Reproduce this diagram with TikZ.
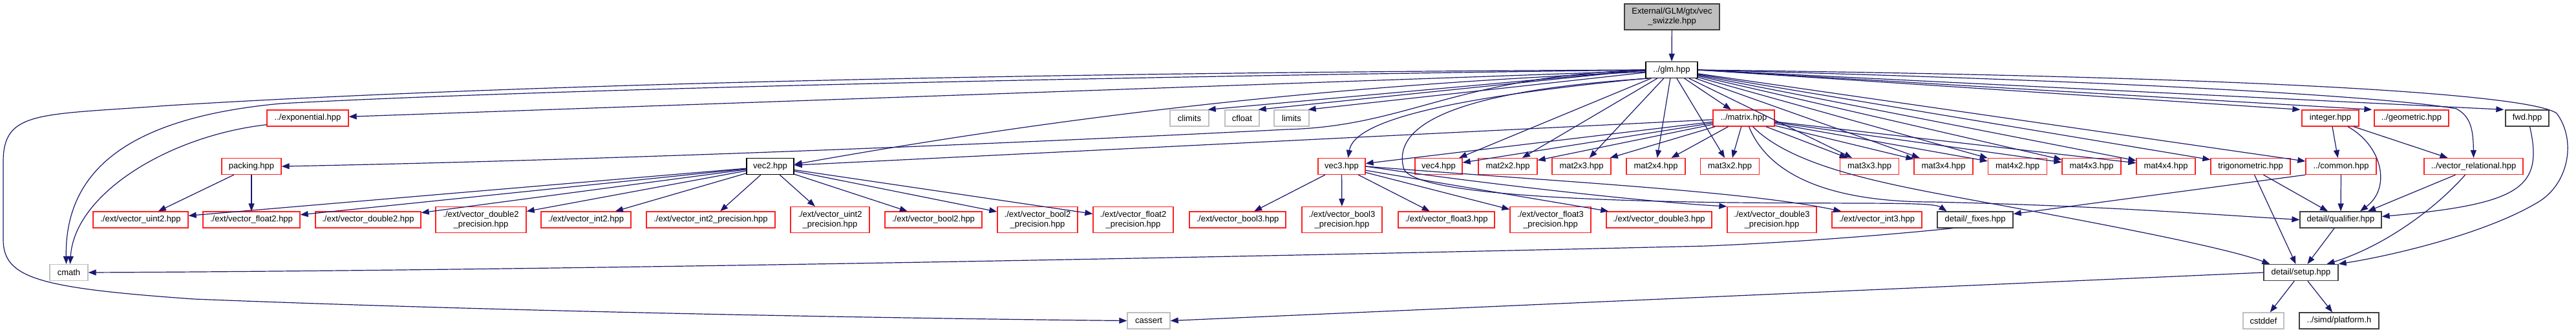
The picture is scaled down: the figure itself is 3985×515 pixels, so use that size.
\documentclass[tikz,border=0pt]{standalone}
\usepackage{fontspec}
\setmainfont{Liberation Sans}
\usetikzlibrary{arrows.meta}
\definecolor{edgec}{HTML}{191970}
\definecolor{redb}{HTML}{FF2020}
\definecolor{grayb}{HTML}{BFBFBF}
\definecolor{darkb}{HTML}{404040}
\tikzset{
  box/.style={draw, line width=1.3pt, inner sep=0pt, align=center, font=\fontsize{13}{15}\selectfont, minimum height=25pt},
  rbox/.style={box, draw=redb},
  kbox/.style={box, draw=black},
  dbox/.style={box, draw=darkb},
  gbox/.style={box, draw=grayb},
  tall/.style={minimum height=40pt},
  e/.style={draw=edgec, line width=1.2pt, -{Triangle[length=12pt,width=9pt]}},
}
\begin{document}
\begin{tikzpicture}[x=1pt,y=-1pt]
\useasboundingbox[fill=white] (0,0) rectangle (3985,515);
% row 0,1
\node[box, draw=darkb, fill=grayb, minimum width=147pt, tall] (main) at (2586.5,26) {External/GLM/gtx/vec\\\_swizzle.hpp};
\node[kbox, minimum width=80pt] (glm) at (2586,108) {../glm.hpp};
% row 2
\node[rbox, minimum width=126pt] (exponential) at (476,182.5) {../exponential.hpp};
\node[gbox, minimum width=60pt] (climits) at (1840,182.5) {climits};
\node[gbox, minimum width=53pt] (cfloat) at (1921.5,182.5) {cfloat};
\node[gbox, minimum width=54pt] (limits) at (1998,182.5) {limits};
\node[rbox, minimum width=95pt] (matrix) at (2697.5,182.5) {../matrix.hpp};
\node[rbox, minimum width=88pt] (integer) at (3605,182.5) {integer.hpp};
\node[rbox, minimum width=115pt] (geometric) at (3730.5,182.5) {../geometric.hpp};
\node[dbox, minimum width=67pt] (fwd) at (3909.5,182.5) {fwd.hpp};
% row 3
\node[rbox, minimum width=92pt] (packing) at (389,257) {packing.hpp};
\node[kbox, minimum width=73pt] (vec2) at (1191.5,257) {vec2.hpp};
\node[rbox, minimum width=73pt] (vec3) at (2075.5,257) {vec3.hpp};
\node[rbox, minimum width=73pt] (vec4) at (2225.5,257) {vec4.hpp};
\node[rbox, minimum width=91pt] (m22) at (2332.5,257) {mat2x2.hpp};
\node[rbox, minimum width=91pt] (m23) at (2446.5,257) {mat2x3.hpp};
\node[rbox, minimum width=91pt] (m24) at (2561.5,257) {mat2x4.hpp};
\node[rbox, minimum width=91pt] (m32) at (2676,257) {mat3x2.hpp};
\node[rbox, minimum width=91pt] (m33) at (2892,257) {mat3x3.hpp};
\node[rbox, minimum width=91pt] (m34) at (3006.5,257) {mat3x4.hpp};
\node[rbox, minimum width=91pt] (m42) at (3121,257) {mat4x2.hpp};
\node[rbox, minimum width=91pt] (m43) at (3235.5,257) {mat4x3.hpp};
\node[rbox, minimum width=91pt] (m44) at (3350.5,257) {mat4x4.hpp};
\node[rbox, minimum width=123pt] (trig) at (3481.5,257) {trigonometric.hpp};
\node[rbox, minimum width=109pt] (common) at (3621.5,257) {../common.hpp};
\node[rbox, minimum width=153pt] (vecrel) at (3826.5,257) {../vector\_relational.hpp};
% row 4
\node[rbox, minimum width=147pt] (uint2) at (217.5,339.5) {./ext/vector\_uint2.hpp};
\node[rbox, minimum width=150pt] (float2) at (389,339.5) {./ext/vector\_float2.hpp};
\node[rbox, minimum width=163pt] (double2) at (569.5,339.5) {./ext/vector\_double2.hpp};
\node[rbox, minimum width=140pt, tall] (double2p) at (744,339.5) {./ext/vector\_double2\\\_precision.hpp};
\node[rbox, minimum width=139pt] (int2) at (906.5,339.5) {./ext/vector\_int2.hpp};
\node[rbox, minimum width=199pt] (int2p) at (1099.5,339.5) {./ext/vector\_int2\_precision.hpp};
\node[rbox, minimum width=122pt, tall] (uint2p) at (1284,339.5) {./ext/vector\_uint2\\\_precision.hpp};
\node[rbox, minimum width=150pt] (bool2) at (1444,339.5) {./ext/vector\_bool2.hpp};
\node[rbox, minimum width=124pt, tall] (bool2p) at (1605,339.5) {./ext/vector\_bool2\\\_precision.hpp};
\node[rbox, minimum width=124pt, tall] (float2p) at (1753,339.5) {./ext/vector\_float2\\\_precision.hpp};
\node[rbox, minimum width=149pt] (bool3) at (1914.5,339.5) {./ext/vector\_bool3.hpp};
\node[rbox, minimum width=124pt, tall] (bool3p) at (2076,339.5) {./ext/vector\_bool3\\\_precision.hpp};
\node[rbox, minimum width=149pt] (float3) at (2237.5,339.5) {./ext/vector\_float3.hpp};
\node[rbox, minimum width=125pt, tall] (float3p) at (2398.5,339.5) {./ext/vector\_float3\\\_precision.hpp};
\node[rbox, minimum width=163pt] (double3) at (2566.5,339.5) {./ext/vector\_double3.hpp};
\node[rbox, minimum width=138pt, tall] (double3p) at (2741,339.5) {./ext/vector\_double3\\\_precision.hpp};
\node[rbox, minimum width=139pt] (int3) at (2903.5,339.5) {./ext/vector\_int3.hpp};
\node[dbox, minimum width=117pt] (fixes) at (3055.5,339.5) {detail/\_fixes.hpp};
\node[dbox, minimum width=126pt] (qualifier) at (3621,339.5) {detail/qualifier.hpp};
% row 5,6
\node[gbox, minimum width=59pt] (cmath) at (106.5,421) {cmath};
\node[dbox, minimum width=115pt] (setup) at (3559.5,421) {detail/setup.hpp};
\node[gbox, minimum width=66pt] (cassert) at (1777,495.5) {cassert};
\node[gbox, minimum width=63pt] (cstddef) at (3501.5,495.5) {cstddef};
\node[dbox, minimum width=123pt] (platform) at (3618.5,495.5) {../simd/platform.h};

% edges
\draw[e] (main) -- (glm);
\draw[e] (glm.west) -- ([xshift=-2pt]climits.north east);
\draw[e] (glm.west) -- ([xshift=-2pt]cfloat.north east);
\draw[e] ([yshift=-4pt]glm.west) -- ([xshift=-2pt]limits.north east);
\draw[e] (glm) -- (exponential);
\draw[e] (glm) -- (matrix);
\draw[e] (glm.east) -- ([xshift=-2pt]integer.north west);
\draw[e] (glm.east) -- ([xshift=-3pt]geometric.north west);
\draw[e] (glm.east) -- ([xshift=-2pt]fwd.north west);
\draw[e] ([yshift=-3pt]glm.west) .. controls (2100,130) and (1700,170) .. ([yshift=3pt]vec2.east);
\draw[e] (glm) -- (vec4);
\draw[e] (glm) -- (m22);
\draw[e] (glm) -- (m23);
\draw[e] (glm) -- (m24);
\draw[e] (glm) -- (m32);
\draw[e] (glm) -- (m33);
\draw[e] (glm) -- (m34);
\draw[e] (glm) -- (m42);
\draw[e] (glm) -- (m43);
\draw[e] (glm) -- (m44);
\draw[e] (glm) -- (trig);
\draw[e] (glm) -- (common);
\draw[e] (glm.east) .. controls (3300,125) and (3700,150) .. (3800,168) .. controls (3822,180) and (3826,200) .. (vecrel.north);
\draw[e] (glm.east) .. controls (3600,120) and (3920,150) .. (3955,175) .. controls (3985,215) and (3975,280) .. (3930,310) .. controls (3850,360) and (3700,395) .. (setup.north east);
\draw[e] (glm.south west) .. controls (2250,150) and (2095,185) .. ([xshift=10pt]vec3.north);
\draw[e] ([xshift=5pt]glm.south west) .. controls (2260,140) and (2150,190) .. (2172,262) .. controls (2195,300) and (2450,310) .. (2680,313) .. controls (2900,315) and (2990,312) .. ([xshift=-44pt]fixes.north);
\draw[e] (glm.west) .. controls (2250,118) and (2180,195) .. (1990,200) .. controls (1500,225) and (900,248) .. (packing.east);
\draw[e] (glm.west) .. controls (1600,120) and (800,140) .. (434,160) .. controls (220,180) and (100,250) .. ([xshift=-4pt]cmath.north);
\draw[e] (glm.west) .. controls (1600,112) and (800,130) .. (260,163) .. controls (60,178) and (5,170) .. (5,250) -- (5,370) .. controls (5,430) and (60,445) .. (300,462) .. controls (800,482) and (1400,492) .. (cassert.west);
% exponential, packing
\draw[e] ([yshift=3pt]exponential.south west) .. controls (260,210) and (115,300) .. ([xshift=2pt]cmath.north);
\draw[e] (packing) -- (uint2);
\draw[e] (packing) -- (float2);
% matrix
\draw[e] (matrix) -- (vec2);
\draw[e] (matrix) -- (vec3);
\draw[e] (matrix) -- (vec4);
\draw[e] (matrix) -- (m22);
\draw[e] (matrix) -- (m23);
\draw[e] (matrix) -- (m24);
\draw[e] (matrix) -- (m32);
\draw[e] (matrix) -- (m33);
\draw[e] (matrix) -- (m34);
\draw[e] (matrix) -- (m42);
\draw[e] (matrix) -- (m43);
\draw[e] (matrix) -- (m44);
\draw[e] ([xshift=8pt]matrix.south) .. controls (2740,280) and (2850,312) .. (2990,312) .. controls (3250,318) and (3400,330) .. (qualifier.west);
\draw[e] ([xshift=14pt]matrix.south) .. controls (2780,265) and (2950,290) .. (3100,318) .. controls (3300,355) and (3450,385) .. ([xshift=10pt]setup.north west);
% vec2
\draw[e] (vec2) -- (uint2);
\draw[e] (vec2) -- (float2);
\draw[e] (vec2) -- (double2);
\draw[e] (vec2) -- (double2p);
\draw[e] (vec2) -- (int2);
\draw[e] (vec2) -- (int2p);
\draw[e] (vec2) -- (uint2p);
\draw[e] (vec2) -- (bool2);
\draw[e] (vec2) -- (bool2p);
\draw[e] (vec2) -- (float2p);
% vec3
\draw[e] (vec3) -- (bool3);
\draw[e] (vec3) -- (bool3p);
\draw[e] (vec3) -- (float3);
\draw[e] (vec3) -- (float3p);
\draw[e] (vec3) -- (double3);
\draw[e] (vec3.east) .. controls (2300,285) and (2560,313) .. (double3p.north west);
\draw[e] (vec3.east) .. controls (2400,280) and (2700,295) .. ([xshift=15pt]int3.north west);
% right cluster
\draw[e] ([xshift=3pt]integer.south) -- ([xshift=-5pt]common.north);
\draw[e] ([xshift=36pt]integer.south) -- ([xshift=-40pt]vecrel.north);
\draw[e] ([xshift=27pt]integer.south) .. controls (3685,225) and (3700,290) .. ([xshift=30pt]qualifier.north);
\draw[e] ([xshift=4pt]fwd.south) .. controls (3935,290) and (3900,315) .. ([yshift=5pt]qualifier.east);
\draw[e] ([xshift=20pt]trig.south) -- ([xshift=-20pt]qualifier.north);
\draw[e] ([xshift=6pt]trig.south) -- ([xshift=-8pt]setup.north);
\draw[e] (common.south) -- (qualifier.north);
\draw[e] (common.south west) -- ([yshift=9pt]fixes.east);
\draw[e] ([xshift=-28pt]vecrel.south) -- ([xshift=42pt]qualifier.north);
\draw[e] ([xshift=-13pt]vecrel.south) .. controls (3770,320) and (3690,380) .. ([xshift=40pt]setup.north);
\draw[e] (qualifier) -- (setup);
\draw[e] (setup) -- (cstddef);
\draw[e] (setup) -- (platform);
\draw[e] (setup.west) -- (cassert.east);
\draw[e] ([xshift=-35pt]fixes.south) .. controls (2900,365) and (2760,375) .. (2640,380) .. controls (1800,400) and (800,418) .. (cmath.east);
\end{tikzpicture}
\end{document}
